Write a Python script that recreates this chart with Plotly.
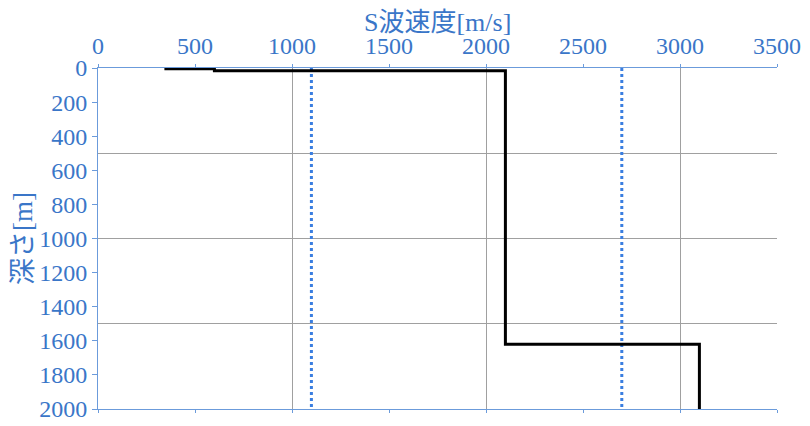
import plotly.graph_objects as go

# S-wave velocity layers [m/s] and layer top depths [m]
layer_vs = [350, 600, 2100, 3100]
layer_top = [0, 4, 16, 1620]
bottom_depth = 2000

# reference velocities (dotted lines)
ref_vs = [1100, 2700]

x_ticks = [0, 500, 1000, 1500, 2000, 2500, 3000, 3500]
y_ticks = [0, 200, 400, 600, 800, 1000, 1200, 1400, 1600, 1800, 2000]

BLUE = '#3a76c8'
AXIS = '#6b9bdb'
GRID = '#a0a0a0'
FONT = 'Liberation Serif, Noto Sans CJK JP, serif'

# step profile built from the layer table
bottoms = layer_top[1:] + [bottom_depth]
step_x, step_y = [], []
for vs, top, bot in zip(layer_vs, layer_top, bottoms):
    step_x += [vs, vs]; step_y += [top, bot]

fig = go.Figure()
for v in ref_vs:
    fig.add_trace(go.Scatter(x=[v, v], y=[0, bottom_depth], mode='lines',
                             line=dict(color='#3a7ee0', width=3, dash='dot'),
                             showlegend=False, hoverinfo='skip'))
fig.add_trace(go.Scatter(x=step_x, y=step_y, mode='lines',
                         line=dict(color='black', width=3), showlegend=False))

# page body has an 8px default margin, so the figure is a bit smaller than the window
fig.update_layout(
    width=802, height=418, plot_bgcolor='white', paper_bgcolor='white',
    margin=dict(l=90, r=33, t=60, b=17),
    font=dict(family=FONT, color=BLUE),
    # base axes: grid only
    xaxis=dict(range=[0, 3500], dtick=1000, showgrid=True, gridcolor=GRID, gridwidth=1,
               showticklabels=False, zeroline=False, showline=False, ticks='', automargin=False),
    yaxis=dict(range=[bottom_depth, 0], dtick=500, showgrid=True, gridcolor=GRID, gridwidth=1,
               showticklabels=False, zeroline=False, showline=False, ticks='', automargin=False),
    # overlay axes: labels, lines, ticks
    xaxis2=dict(overlaying='x', side='top', range=[0, 3500], tickvals=x_ticks,
                ticktext=[str(t) for t in x_ticks], showgrid=False, zeroline=False,
                showline=True, linecolor=AXIS, linewidth=1, mirror='ticks', automargin=False,
                ticks='outside', ticklen=3, tickcolor=AXIS,
                tickfont=dict(size=24, color=BLUE)),
    yaxis2=dict(overlaying='y', side='left', anchor='x2', range=[bottom_depth, 0], tickvals=y_ticks,
                ticktext=[str(t) for t in y_ticks], showgrid=False, zeroline=False,
                showline=True, linecolor=AXIS, linewidth=1, automargin=False,
                ticks='outside', ticklen=5, tickcolor=AXIS, tickfont=dict(size=24, color=BLUE),
                title=dict(text='深さ[m]', font=dict(size=27, color=BLUE), standoff=4)),
    annotations=[dict(text='S波速度[m/s]', xref='paper', yref='paper', x=0.5, y=1,
                      xanchor='center', yanchor='middle', yshift=46, showarrow=False,
                      font=dict(size=26, color=BLUE))],
)
# invisible trace to activate the overlay axes
fig.add_trace(go.Scatter(x=[0], y=[0], xaxis='x2', yaxis='y2', mode='markers',
                         marker=dict(opacity=0), showlegend=False, hoverinfo='skip'))

fig.write_html("out.html")
